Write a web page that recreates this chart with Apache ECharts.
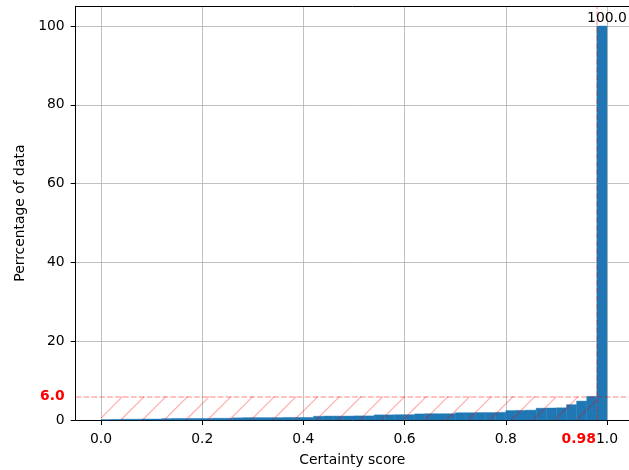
<!DOCTYPE html>
<html><head><meta charset="utf-8">
<script src="https://cdn.jsdelivr.net/npm/echarts@6/dist/echarts.min.js"></script>
<style>html,body{margin:0;padding:0;background:#fff}#c{width:629px;height:470px}</style>
</head><body><div id="c"></div>
<script>
// ---- data ----
const binEdges = [0.00,0.02,0.04,0.06,0.08,0.10,0.12,0.14,0.16,0.18,0.20,0.22,0.24,0.26,0.28,0.30,0.32,0.34,0.36,0.38,0.40,0.42,0.44,0.46,0.48,0.50,0.52,0.54,0.56,0.58,0.60,0.62,0.64,0.66,0.68,0.70,0.72,0.74,0.76,0.78,0.80,0.82,0.84,0.86,0.88,0.90,0.92,0.94,0.96,0.98,1.00];
const cumPercent = [0.1,0.15,0.2,0.2,0.25,0.25,
  0.35,0.4,0.4,0.4,0.4,0.45,0.45,
  0.55,0.6,0.6,0.6,0.6,0.65,0.65,0.65,
  0.95,1.0,1.0,1.0,1.05,1.05,
  1.3,1.3,1.35,1.35,
  1.55,1.6,1.6,1.6,
  1.85,1.85,1.9,1.9,1.95,
  2.4,2.45,2.5,
  3.0,3.05,3.1,
  3.9,4.8,6.0,100.0];
const xTicks = [0.0,0.2,0.4,0.6,0.8,1.0];
const xTickLabels = ['0.0','0.2','0.4','0.6','0.8','1.0'];
const yTicks = [0,20,40,60,80,100];
const thresholdScore = 0.98;
const thresholdPercent = 6.0;
const thresholdScoreLabel = '0.98';
const thresholdPercentLabel = '6.0';
const topBarLabel = '100.0';
const xName = 'Certainty score';
const yName = 'Perrcentage of data';

// ---- chart ----
const FONT = 'DejaVu Sans';
const FS = 13.9;
const chart = echarts.init(document.getElementById('c'), null, {renderer:'canvas'});
const barData = cumPercent.map((v,i)=>[binEdges[i], binEdges[i+1], v]);
const red = 'rgba(255,0,0,0.32)';
const X_MIN = -0.05, X_MAX = 1.0435; // right part of the plot is cut by the image edge

chart.setOption({
  animation:false,
  grid:{left:75.7, right:0, top:6.3, bottom:50, show:false, containLabel:false, outerBoundsMode:'none'},
  xAxis:[{type:'value', min:X_MIN, max:X_MAX,
    name:xName, nameLocation:'middle', nameGap:33,
    nameTextStyle:{fontFamily:FONT, fontSize:FS, color:'#000'},
    axisLine:{show:true, onZero:false, lineStyle:{color:'#000', width:1}},
    axisTick:{show:true, length:5, lineStyle:{color:'#000', width:1}, customValues:xTicks},
    axisLabel:{fontFamily:FONT, fontSize:FS, color:'#000', margin:12, customValues:xTicks,
      formatter:(v)=>{const i=xTicks.findIndex(t=>Math.abs(t-v)<1e-9);return i>=0?xTickLabels[i]:'';}},
    splitLine:{show:true, lineStyle:{color:'#b0b0b0', width:0.8}}
  },{type:'value', position:'top', min:X_MIN, max:X_MAX,
    axisLine:{show:true, onZero:false, lineStyle:{color:'#000', width:1}},
    axisTick:{show:false}, axisLabel:{show:false}, splitLine:{show:false}
  }],
  yAxis:{type:'value', min:0, max:105,
    name:yName, nameLocation:'middle', nameGap:48, nameRotate:90,
    nameTextStyle:{fontFamily:FONT, fontSize:FS, color:'#000'},
    axisLine:{show:true, onZero:false, lineStyle:{color:'#000', width:1}},
    axisTick:{show:true, length:5, lineStyle:{color:'#000', width:1}, customValues:yTicks},
    axisLabel:{fontFamily:FONT, fontSize:FS, color:'#000', margin:11, customValues:yTicks},
    splitLine:{show:true, lineStyle:{color:'#b0b0b0', width:0.8}}
  },
  series:[
    {type:'custom', z:2, data:barData, encode:{x:[0,1], y:2},
      renderItem(params, api){
        const p0 = api.coord([api.value(0), api.value(2)]);
        const p1 = api.coord([api.value(1), 0]);
        return {type:'rect', shape:{x:p0[0], y:p0[1], width:p1[0]-p0[0], height:p1[1]-p0[1]},
          style:{fill:'#1f77b4', stroke:'#1f77b4', lineWidth:0.4}};
      }
    },
    {type:'custom', z:5, data:[[0, thresholdScore, thresholdPercent]], encode:{x:[0,1], y:2},
      renderItem(params, api){
        const tl = api.coord([api.value(0), api.value(2)]);
        const br = api.coord([api.value(1), 0]);
        const x0=tl[0], x1=br[0], yT=tl[1], yB=br[1], h=yB-yT;
        const s = 21.7;
        const children=[];
        for (let c = x0 - h; c < x1; c += s){
          const t0 = Math.max(0, x0-c), t1 = Math.min(h, x1-c);
          if (t1<=t0) continue;
          children.push({type:'line', shape:{x1:c+t0, y1:yB-t0, x2:c+t1, y2:yB-t1},
            style:{stroke:red, lineWidth:1.2}});
        }
        return {type:'group', children};
      },
      markLine:{silent:true, symbol:'none', label:{show:false}, z:6,
        lineStyle:{color:red, type:[5.5,2.4], width:1.5},
        data:[{yAxis:thresholdPercent},{xAxis:thresholdScore}]}
    },
    {type:'custom', z:6, data:[[thresholdScore, thresholdPercent]], encode:{x:0, y:1},
      renderItem(params, api){
        const pX = api.coord([thresholdScore, 0]);
        const pY = api.coord([X_MIN, thresholdPercent]);
        const pT = api.coord([1.0, 100]);
        return {type:'group', children:[
          {type:'text', style:{text:thresholdScoreLabel, x:pX[0]-1, y:pX[1]+12, align:'right', verticalAlign:'top',
            fill:'#ff0000', font:'bold '+FS+'px "'+FONT+'"'}},
          {type:'text', style:{text:thresholdPercentLabel, x:pY[0]-11, y:pY[1], align:'right', verticalAlign:'middle',
            fill:'#ff0000', font:'bold '+FS+'px "'+FONT+'"'}},
          {type:'text', style:{text:topBarLabel, x:pT[0], y:pT[1]-1, align:'center', verticalAlign:'bottom',
            fill:'#000', font:FS+'px "'+FONT+'"'}}
        ]};
      }
    }
  ]
});
</script></body></html>
